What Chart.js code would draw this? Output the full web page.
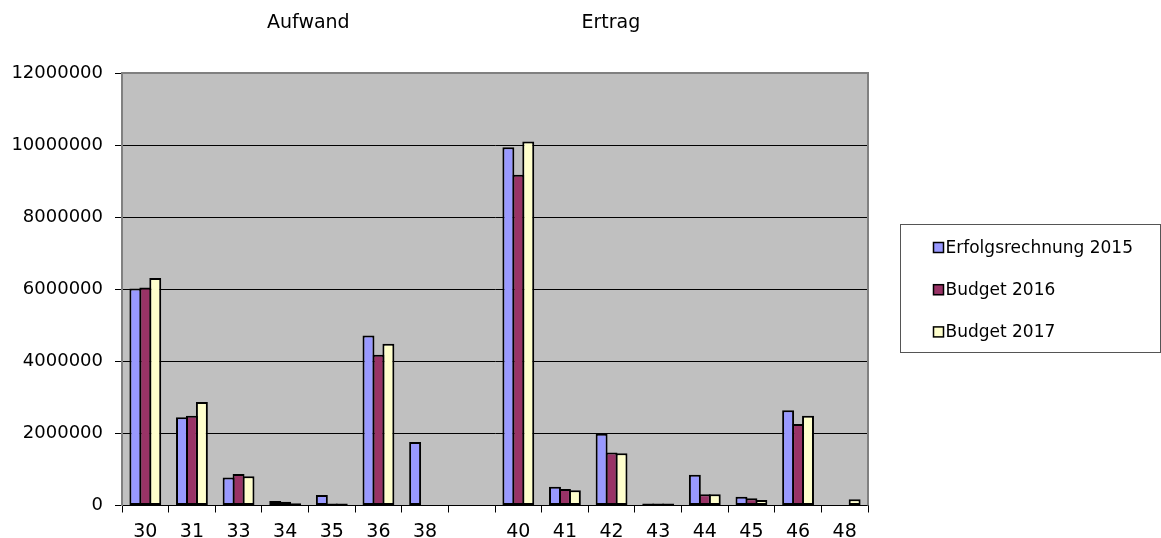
<!DOCTYPE html>
<html>
<head>
<meta charset="utf-8">
<script src="https://cdn.jsdelivr.net/npm/chart.js@4/dist/chart.umd.min.js"></script>
<style>
  html, body { margin: 0; padding: 0; background: #ffffff; }
  #wrap { width: 1161px; height: 538px; }
</style>
</head>
<body>
<div id="wrap"><canvas id="chart" width="1161" height="538"></canvas></div>
<script>
// Account groups (30-38 expenses, 40-48 revenue); the empty slot separates the two blocks
const categories = ['30', '31', '33', '34', '35', '36', '38', '', '40', '41', '42', '43', '44', '45', '46', '48'];

const erfolgsrechnung2015 = [6020000, 2450000, 780000, 125000, 290000, 4720000, 1760000, null,
                             9940000, 520000, 1990000, 10000, 850000, 245000, 2640000, null];
const budget2016          = [6050000, 2490000, 875000, 105000, 15000, 4180000, null, null,
                             9180000, 460000, 1470000, 10000, 310000, 200000, 2260000, null];
const budget2017          = [6310000, 2870000, 810000, 60000, 15000, 4490000, null, null,
                             10100000, 420000, 1450000, 10000, 310000, 150000, 2490000, 170000];

const seriesNames = ['Erfolgsrechnung 2015', 'Budget 2016', 'Budget 2017'];
const seriesColors = ['#9999FF', '#993366', '#FFFFCC'];
const yTickValues = [0, 2000000, 4000000, 6000000, 8000000, 10000000, 12000000];
const groupTitles = ['Aufwand', 'Ertrag'];

const FONT = "'DejaVu Sans', 'Liberation Sans', Arial, sans-serif";

// Grey plot area with a thin grey frame on top, left and right
const plotFrame = {
  id: 'plotFrame',
  beforeDraw(chart) {
    const { ctx, chartArea: a } = chart;
    ctx.save();
    ctx.fillStyle = '#C0C0C0';
    ctx.fillRect(a.left, a.top, a.right - a.left, a.bottom - a.top);
    ctx.restore();
  },
  beforeDatasetsDraw(chart) {
    const { ctx, chartArea: a } = chart;
    ctx.save();
    ctx.strokeStyle = '#808080';
    ctx.lineWidth = 2;
    ctx.beginPath();
    ctx.moveTo(a.left, a.top);
    ctx.lineTo(a.right, a.top);
    ctx.lineTo(a.right, a.bottom);
    ctx.stroke();
    ctx.restore();
  }
};

// Block headings above the plot
const headings = {
  id: 'headings',
  afterDraw(chart) {
    const ctx = chart.ctx;
    ctx.save();
    ctx.fillStyle = '#000';
    ctx.font = '19px ' + FONT;
    ctx.textBaseline = 'alphabetic';
    ctx.textAlign = 'left';
    ctx.fillText(groupTitles[0], 267, 27.5);
    ctx.fillText(groupTitles[1], 581.5, 27.5);
    ctx.restore();
  }
};

// Framed legend box on the right
const boxedLegend = {
  id: 'boxedLegend',
  afterDraw(chart) {
    const ctx = chart.ctx;
    ctx.save();
    ctx.strokeStyle = '#555';
    ctx.lineWidth = 1;
    ctx.strokeRect(900.5, 224.5, 260, 128);
    ctx.font = '17px ' + FONT;
    ctx.textBaseline = 'middle';
    ctx.textAlign = 'left';
    chart.data.datasets.forEach((ds, i) => {
      const cy = 247.5 + i * 42.2;
      ctx.fillStyle = ds.backgroundColor;
      ctx.fillRect(933, cy - 5.5, 11, 11);
      ctx.strokeStyle = '#000';
      ctx.lineWidth = 1.5;
      ctx.strokeRect(933.5, cy - 5, 10, 10);
      ctx.fillStyle = '#000';
      ctx.fillText(ds.label, 945.5, cy + 1);
    });
    ctx.restore();
  }
};

const seriesData = [erfolgsrechnung2015, budget2016, budget2017];

new Chart(document.getElementById('chart'), {
  type: 'bar',
  data: {
    labels: categories,
    datasets: seriesData.map((values, i) => ({
      label: seriesNames[i],
      data: values,
      backgroundColor: seriesColors[i],
      borderColor: '#000000',
      borderWidth: 2,
      borderSkipped: false,
      minBarLength: 2,
      categoryPercentage: 0.64,
      barPercentage: 1.2
    }))
  },
  options: {
    responsive: false,
    animation: false,
    devicePixelRatio: 1,
    layout: { padding: { left: 0, top: 73, right: 293, bottom: 0 } },
    plugins: {
      legend: { display: false },
      tooltip: { enabled: false }
    },
    scales: {
      x: {
        grid: {
          offset: true,
          drawOnChartArea: false,
          color: '#000',
          tickLength: 7
        },
        border: { color: '#000', width: 1 },
        ticks: {
          color: '#000',
          font: { family: FONT, size: 19 },
          padding: 8,
          maxRotation: 0,
          autoSkip: false
        },
        afterFit(scale) { scale.height = 32.5; }
      },
      y: {
        min: 0,
        max: 12000000,
        afterBuildTicks(scale) {
          scale.ticks = yTickValues.map(v => ({ value: v }));
        },
        grid: {
          color: ctx => (ctx.tick && ctx.tick.value === 12000000) ? 'rgba(0,0,0,0)' : '#000',
          tickColor: '#000',
          tickLength: 7,
          lineWidth: 1
        },
        border: { color: '#808080', width: 2 },
        ticks: {
          color: '#000',
          font: { family: FONT, size: 18 },
          padding: 12,
          callback: v => String(v)
        },
        afterFit(scale) { scale.width = 122; }
      }
    }
  },
  plugins: [plotFrame, headings, boxedLegend]
});
</script>
</body>
</html>
